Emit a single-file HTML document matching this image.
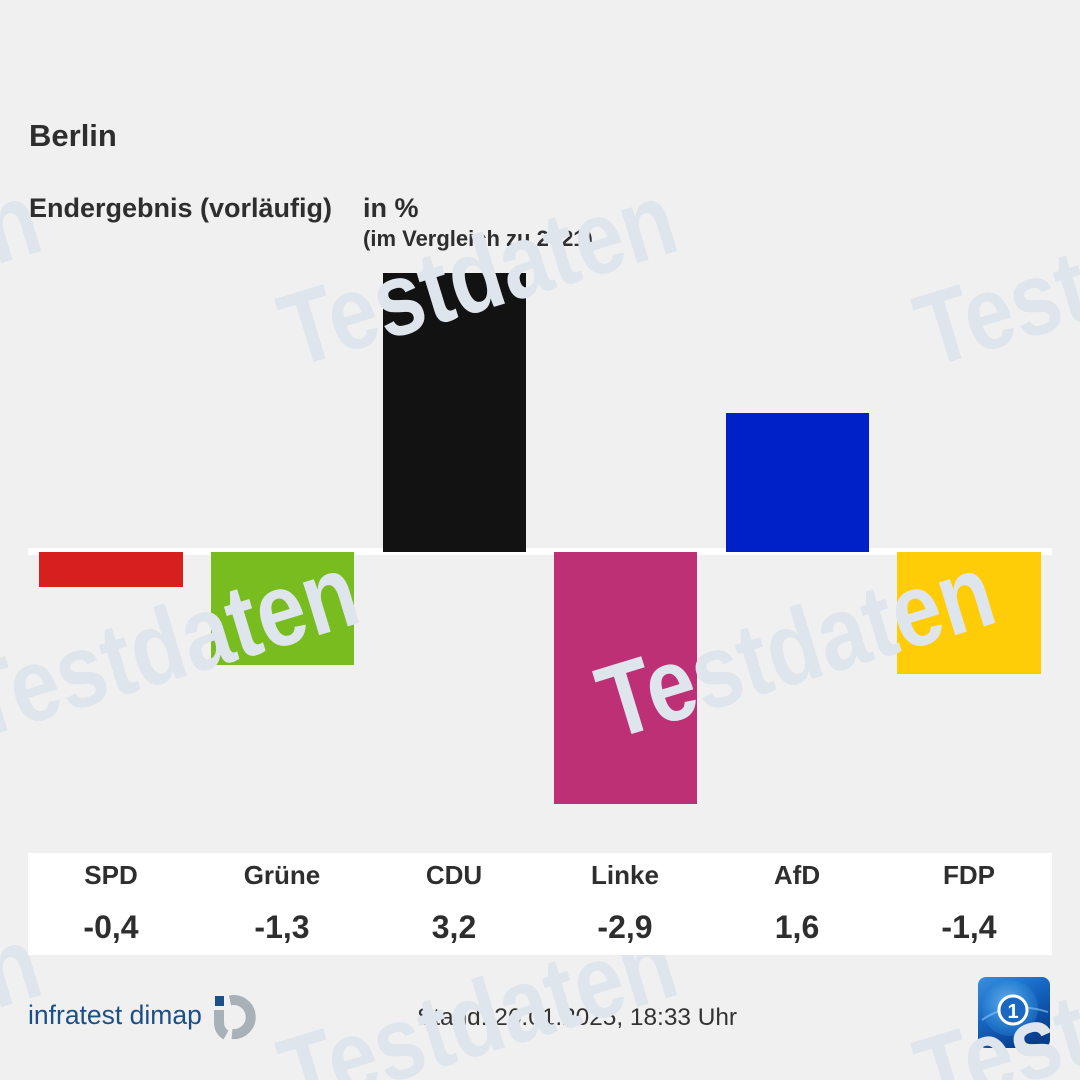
<!DOCTYPE html>
<html>
<head>
<meta charset="utf-8">
<style>
  html, body { margin:0; padding:0; background:#f0f0f0; }
  svg { display:block; }
  text { font-family: "Liberation Sans", "DejaVu Sans", sans-serif; }
</style>
</head>
<body>
<svg width="1080" height="1080" viewBox="0 0 1080 1080" xmlns="http://www.w3.org/2000/svg">
  <defs>
    <linearGradient id="ardg" x1="0" y1="0" x2="0.6" y2="1">
      <stop offset="0" stop-color="#3b8ee0"/>
      <stop offset="0.5" stop-color="#1565c0"/>
      <stop offset="1" stop-color="#083d8c"/>
    </linearGradient>
    <radialGradient id="globe" cx="0.45" cy="0.4" r="0.6">
      <stop offset="0" stop-color="#6fb6f0"/>
      <stop offset="0.6" stop-color="#2f86d6"/>
      <stop offset="1" stop-color="#1766bd"/>
    </radialGradient>
  </defs>

  <rect x="0" y="0" width="1080" height="1080" fill="#f0f0f0"/>

  <!-- Titles -->
  <text x="29" y="146" font-size="31" font-weight="bold" fill="#2e2e2e">Berlin</text>
  <text x="29" y="217" font-size="27" font-weight="bold" fill="#2e2e2e">Endergebnis (vorläufig)</text>
  <text x="363" y="217" font-size="27" font-weight="bold" fill="#2e2e2e">in %</text>
  <text x="363" y="246" font-size="22" font-weight="bold" fill="#2e2e2e">(im Vergleich zu 2021)</text>

  <!-- zero line -->
  <rect x="28" y="548" width="1024" height="7" fill="#ffffff"/>

  <!-- Bars -->
  <rect x="39" y="552" width="144" height="35" fill="#d71f1d"/>
  <rect x="211" y="552" width="143" height="113" fill="#79bc1f"/>
  <rect x="383" y="273" width="143" height="279" fill="#121212"/>
  <rect x="554" y="552" width="143" height="252" fill="#bd3075"/>
  <rect x="726" y="413" width="143" height="139" fill="#0021c8"/>
  <rect x="897" y="552" width="144" height="122" fill="#ffcd07"/>

  <!-- Footer -->
  <text x="28" y="1024" font-size="26.5" fill="#1d4f85">infratest dimap</text>
  <rect x="215" y="996" width="9" height="10" fill="#1d4f8a"/>
  <path d="M 230 1000.5 A 17 17 0 1 1 232 1034" fill="none" stroke="#a8b0b8" stroke-width="10"/>
  <path d="M 219 1010 L 219 1022 Q 219 1031 226 1035" fill="none" stroke="#a8b0b8" stroke-width="10"/>

  <text x="417" y="1025" font-size="24.4" fill="#333333">Stand: 26.01.2025, 18:33 Uhr</text>

  <!-- ARD tagesschau logo -->
  <rect x="978" y="977" width="72" height="71" rx="8" fill="url(#ardg)"/>
  <circle cx="1010" cy="1008" r="28" fill="url(#globe)" opacity="0.85"/>
  <path d="M 982 1020 Q 1010 1000 1048 1012" fill="none" stroke="#8cc8f5" stroke-width="2" opacity="0.6"/>
  <circle cx="1013" cy="1010" r="14" fill="#1a68bf" stroke="#ffffff" stroke-width="3"/>
  <text x="1013" y="1018" font-size="20" font-weight="bold" fill="#ffffff" text-anchor="middle">1</text>

  <!-- Watermark -->
  <g fill="#dfe5ed" font-size="104" font-weight="bold">
    <text transform="translate(294,368) rotate(-17) scale(0.84,1)">Testdaten</text>
    <text transform="translate(930,368) rotate(-17) scale(0.84,1)">Testdaten</text>
    <text transform="translate(-342,368) rotate(-17) scale(0.84,1)">Testdaten</text>
    <text transform="translate(-24,740) rotate(-17) scale(0.84,1)">Testdaten</text>
    <text transform="translate(612,740) rotate(-17) scale(0.84,1)">Testdaten</text>
    <text transform="translate(294,1112) rotate(-17) scale(0.84,1)">Testdaten</text>
    <text transform="translate(930,1112) rotate(-17) scale(0.84,1)">Testdaten</text>
    <text transform="translate(-342,1112) rotate(-17) scale(0.84,1)">Testdaten</text>
  </g>

  <!-- Table -->
  <rect x="28" y="853" width="1024" height="102" fill="#ffffff"/>
  <g font-size="26" font-weight="bold" fill="#2e2e2e" text-anchor="middle">
    <text x="111" y="884">SPD</text>
    <text x="282" y="884">Grüne</text>
    <text x="454" y="884">CDU</text>
    <text x="625" y="884">Linke</text>
    <text x="797" y="884">AfD</text>
    <text x="969" y="884">FDP</text>
  </g>
  <g font-size="32" font-weight="bold" fill="#2e2e2e" text-anchor="middle">
    <text x="111" y="938">-0,4</text>
    <text x="282" y="938">-1,3</text>
    <text x="454" y="938">3,2</text>
    <text x="625" y="938">-2,9</text>
    <text x="797" y="938">1,6</text>
    <text x="969" y="938">-1,4</text>
  </g>
</svg>
</body>
</html>
